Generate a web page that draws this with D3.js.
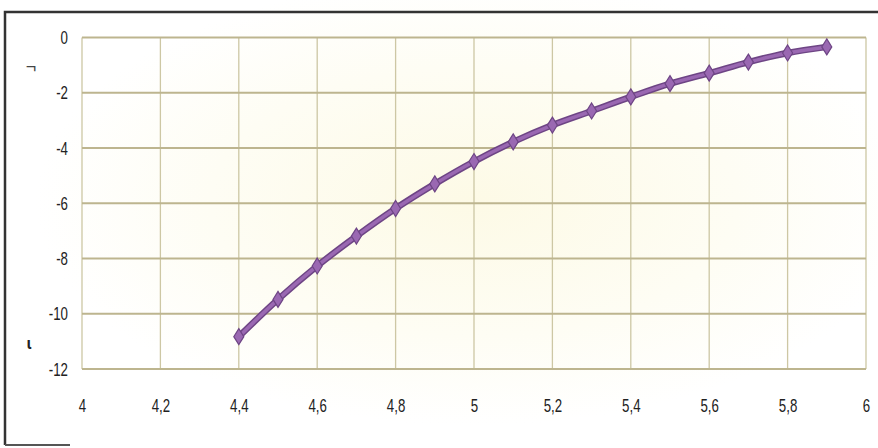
<!DOCTYPE html>
<html><head><meta charset="utf-8">
<script src="https://cdn.jsdelivr.net/npm/d3@7"></script>
<style>body{margin:0;background:#fff}svg{display:block}</style>
</head><body>
<svg id="c" width="878" height="448"></svg>
<script>
const xValues = [4.4,4.5,4.6,4.7,4.8,4.9,5.0,5.1,5.2,5.3,5.4,5.5,5.6,5.7,5.8,5.9];
const yValues = [-10.83,-9.48,-8.27,-7.19,-6.19,-5.30,-4.49,-3.78,-3.17,-2.66,-2.15,-1.67,-1.29,-0.89,-0.56,-0.34];
const xTicks = [4,4.2,4.4,4.6,4.8,5,5.2,5.4,5.6,5.8,6];
const yTicks = [0,-2,-4,-6,-8,-10,-12];

const svg = d3.select("#c");
const defs = svg.append("defs");
const rg = defs.append("radialGradient").attr("id","glow").attr("cx","0.54").attr("cy","0.45").attr("r","0.5");
rg.append("stop").attr("offset","0").attr("stop-color","#fdfae6");
rg.append("stop").attr("offset","0.6").attr("stop-color","#fefdf4");
rg.append("stop").attr("offset","1").attr("stop-color","#ffffff");
svg.append("rect").attr("x",0).attr("y",0).attr("width",878).attr("height",448).attr("fill","url(#glow)");

// outer frame
svg.append("path").attr("d","M5,445 L5,12 L878,12").attr("fill","none").attr("stroke","#333").attr("stroke-width",2.5);
svg.append("line").attr("x1",5).attr("x2",70).attr("y1",445).attr("y2",445).attr("stroke","#555").attr("stroke-width",2);

const x = d3.scaleLinear().domain([4,6]).range([82,866]);
const y = d3.scaleLinear().domain([-12,0]).range([369,37.5]);

const grid = svg.append("g");
grid.selectAll(".gx").data(xTicks).join("line")
  .attr("x1",d=>x(d)).attr("x2",d=>x(d)).attr("y1",y(0)).attr("y2",y(-12))
  .attr("stroke","#cdc7a4").attr("stroke-width",1.3);
grid.selectAll(".gy").data(yTicks).join("line")
  .attr("x1",x(4)).attr("x2",x(6)).attr("y1",d=>y(d)).attr("y2",d=>y(d))
  .attr("stroke","#bdb58f").attr("stroke-width",1.8);

const fmt = d => String(d).replace(".",",");
const font = "'Liberation Sans',Arial,sans-serif";

const xAxis = svg.append("g").attr("transform",`translate(0,${y(-12)})`)
  .call(d3.axisBottom(x).tickValues(xTicks).tickFormat(fmt).tickSize(0).tickPadding(30));
xAxis.select(".domain").remove();
xAxis.selectAll("text").attr("font-family",font).attr("font-size",19).attr("fill","#222")
  .attr("transform","scale(0.7,1)");

const yAxis = svg.append("g").attr("transform",`translate(${x(4)},0)`)
  .call(d3.axisLeft(y).tickValues(yTicks).tickFormat(fmt).tickSize(0).tickPadding(20));
yAxis.select(".domain").remove();
yAxis.selectAll("text").attr("font-family",font).attr("font-size",19).attr("fill","#222")
  .attr("transform","scale(0.7,1)");

// stray marks at left
svg.append("text").attr("x",31).attr("y",73).attr("font-family",font).attr("font-size",18).attr("fill","#444").attr("text-anchor","middle").text("¬");
svg.append("text").attr("x",29).attr("y",349).attr("font-family",font).attr("font-size",16).attr("fill","#222").attr("text-anchor","middle").attr("font-weight","bold").text("ɩ");

const pts = xValues.map((v,i)=>[v,yValues[i]]);
const line = d3.line().x(d=>x(d[0])).y(d=>y(d[1])).curve(d3.curveMonotoneX);
svg.append("path").datum(pts).attr("d",line).attr("fill","none").attr("stroke","#6e4585").attr("stroke-width",6.5).attr("stroke-linejoin","round");
svg.append("path").datum(pts).attr("d",line).attr("fill","none").attr("stroke","#9a68b2").attr("stroke-width",3.5).attr("stroke-linejoin","round");

svg.selectAll(".m").data(pts).join("path")
  .attr("transform",d=>`translate(${x(d[0])},${y(d[1])})`)
  .attr("d","M0,-8 L5,0 L0,8 L-5,0 Z")
  .attr("fill","#9a68b2").attr("stroke","#6e4585").attr("stroke-width",1.2);
</script>
</body></html>
